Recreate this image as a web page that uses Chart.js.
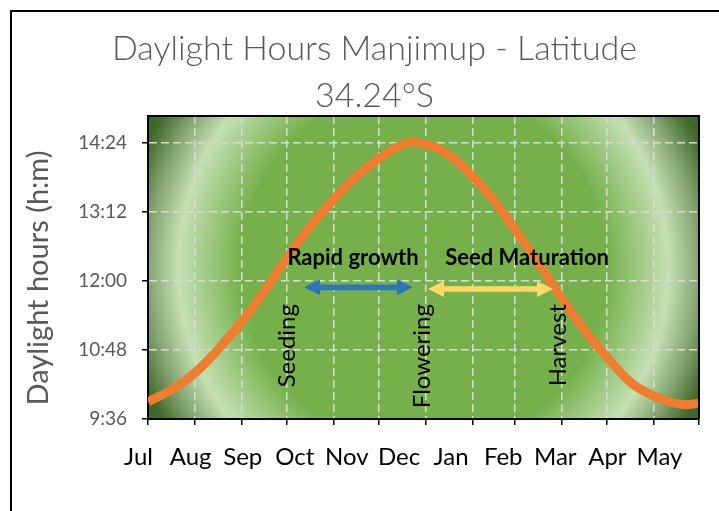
<!DOCTYPE html>
<html><head><meta charset="utf-8">
<script src="https://cdn.jsdelivr.net/npm/chart.js@4"></script>
<style>html,body{margin:0;padding:0;background:#fff;overflow:hidden}#wrap{position:relative;width:719px;height:511px}</style>
</head><body><div id="wrap"><canvas id="c" width="719" height="511"></canvas></div>
<script>
// Days since 1 July and daylight length (decimal hours)
const days = [0,15,31,46,62,77,92,107,123,138,153,163,173,184,194,204,215,229,243,258,274,289,304,320,335,350,358,365];
const daylight = [9.90,10.10,10.40,10.80,11.29,11.82,12.40,12.93,13.42,13.82,14.13,14.30,14.41,14.38,14.28,14.10,13.82,13.40,12.90,12.33,11.70,11.15,10.68,10.23,10.00,9.87,9.85,9.88];
const monthStartDays = [0,31,62,92,123,153,184,215,243,274,304,335,365];
const monthLabels = ['Jul','Aug','Sep','Oct','Nov','Dec','Jan','Feb','Mar','Apr','May'];
const yTicks = [9.6,10.8,12.0,13.2,14.4];
const stageNames = ['Seeding','Flowering','Harvest'];
const stageDays = [92,181.5,272];
const stageTopHours = 11.6;
const phaseNames = ['Rapid growth','Seed Maturation'];
const phaseStart = [103.3,185.5];
const phaseEnd = [175.5,268.3];
const phaseArrowHours = [11.89,11.86];
const phaseTextDays = [135.8,251.1];
const phaseTextHours = 12.4;
const phaseColors = ['#2E75B6','#FFD966'];
const titleLines = ['Daylight Hours Manjimup - Latitude','34.24°S'];
const yTitle = 'Daylight hours (h:m)';

function fmtHM(v){const m=Math.round(v*60);return Math.floor(m/60)+':'+String(m%60).padStart(2,'0');}

const decor = {
  id:'decor',
  beforeDraw(chart){
    const {ctx, chartArea:a} = chart;
    ctx.save();
    ctx.fillStyle='#fff'; ctx.fillRect(0,0,chart.width,chart.height);
    ctx.strokeStyle='#000'; ctx.lineWidth=2; ctx.strokeRect(11,11,900,900);
    const cx=(a.left+a.right)/2, cy=(a.top+a.bottom)/2, R=Math.hypot(a.width/2,a.height/2);
    const g=ctx.createRadialGradient(cx,cy,0,cx,cy,R);
    g.addColorStop(0,'#75B04A'); g.addColorStop(0.58,'#75B04A');
    g.addColorStop(0.78,'#C5E0B4'); g.addColorStop(0.87,'#88A875');
    g.addColorStop(0.96,'#42692D'); g.addColorStop(1,'#3B6127');
    ctx.fillStyle=g; ctx.fillRect(a.left,a.top,a.width,a.height);
    // titles
    ctx.fillStyle='#595959'; ctx.textAlign='center'; ctx.textBaseline='alphabetic';
    ctx.font='300 34px Lato';
    ctx.fillText(titleLines[0],374.5,60);
    ctx.fillText(titleLines[1],374.5,107);
    ctx.translate(39,278); ctx.rotate(-Math.PI/2);
    ctx.font='29px Lato'; ctx.textBaseline='middle';
    ctx.fillText(yTitle,0,0);
    ctx.restore();
  },
  afterDatasetsDraw(chart){
    const {ctx} = chart, xs=chart.scales.x, ys=chart.scales.y;
    ctx.save();
    phaseNames.forEach((n,i)=>{
      const x1=xs.getPixelForValue(phaseStart[i]), x2=xs.getPixelForValue(phaseEnd[i]), y=ys.getPixelForValue(phaseArrowHours[i]);
      const t=2.8, hl=16, hw=8;
      ctx.beginPath();
      ctx.moveTo(x1,y); ctx.lineTo(x1+hl,y-hw); ctx.lineTo(x1+hl,y-t); ctx.lineTo(x2-hl,y-t); ctx.lineTo(x2-hl,y-hw);
      ctx.lineTo(x2,y); ctx.lineTo(x2-hl,y+hw); ctx.lineTo(x2-hl,y+t); ctx.lineTo(x1+hl,y+t); ctx.lineTo(x1+hl,y+hw); ctx.closePath();
      ctx.fillStyle=phaseColors[i]; ctx.fill();
      ctx.fillStyle='#000'; ctx.font='bold 22px Lato'; ctx.textAlign='center'; ctx.textBaseline='middle';
      ctx.fillText(n, xs.getPixelForValue(phaseTextDays[i]), ys.getPixelForValue(phaseTextHours));
    });
    stageNames.forEach((n,i)=>{
      ctx.save();
      ctx.translate(xs.getPixelForValue(stageDays[i]), ys.getPixelForValue(stageTopHours));
      ctx.rotate(-Math.PI/2);
      ctx.fillStyle='#000'; ctx.font='24px Lato'; ctx.textAlign='right'; ctx.textBaseline='middle';
      ctx.fillText(n,0,0);
      ctx.restore();
    });
    ctx.restore();
  },
  afterDraw(chart){
    const {ctx, chartArea:a} = chart;
    ctx.save(); ctx.strokeStyle='#000'; ctx.lineWidth=2;
    ctx.beginPath(); ctx.moveTo(a.left,a.top); ctx.lineTo(a.right,a.top); ctx.lineTo(a.right,a.bottom); ctx.stroke();
    ctx.restore();
  }
};

new Chart(document.getElementById('c'), {
  type:'line',
  data:{datasets:[{
    data: days.map((d,i)=>({x:d,y:daylight[i]})),
    borderColor:'#ED7D31', borderWidth:9, pointRadius:0, tension:0.4, clip:0, borderCapStyle:'butt'
  }]},
  options:{
    responsive:false, animation:false, events:[],
    layout:{padding:{top:116,right:20,left:0,bottom:0}},
    plugins:{legend:{display:false}, tooltip:{enabled:false}, title:{display:false}},
    scales:{
      x:{type:'linear', position:'bottom', weight:0, min:0, max:365,
        afterBuildTicks:s=>{s.ticks=monthStartDays.map(v=>({value:v}));},
        afterFit:s=>{s.height=8;},
        ticks:{display:false},
        grid:{color:'#D9D9D9', lineWidth:1.5, tickLength:6, tickColor:'#000', tickWidth:1.5},
        border:{display:true, color:'#000', width:2, dash:[8,4]}
      },
      xl:{type:'linear', position:'bottom', weight:1, min:0.182, max:10.758,
        afterBuildTicks:s=>{s.ticks=monthLabels.map((_,i)=>({value:i}));},
        afterFit:s=>{s.height=84;},
        ticks:{callback:(v,i)=>monthLabels[i], autoSkip:false, maxRotation:0, padding:16, color:'#000', font:{family:'Lato', size:24}},
        grid:{display:false, drawTicks:false}, border:{display:false}
      },
      y:{type:'linear', position:'left', min:9.6, max:14.87,
        afterBuildTicks:s=>{s.ticks=yTicks.map(v=>({value:v}));},
        afterFit:s=>{s.width=148;},
        ticks:{callback:v=>fmtHM(v), padding:15, color:'#595959', font:{family:'Lato', size:19}},
        grid:{color:'#D9D9D9', lineWidth:1.5, tickLength:6, tickColor:'#000', tickWidth:1.5},
        border:{display:true, color:'#000', width:2, dash:[8,4]}
      }
    }
  },
  plugins:[decor]
});
</script></body></html>
